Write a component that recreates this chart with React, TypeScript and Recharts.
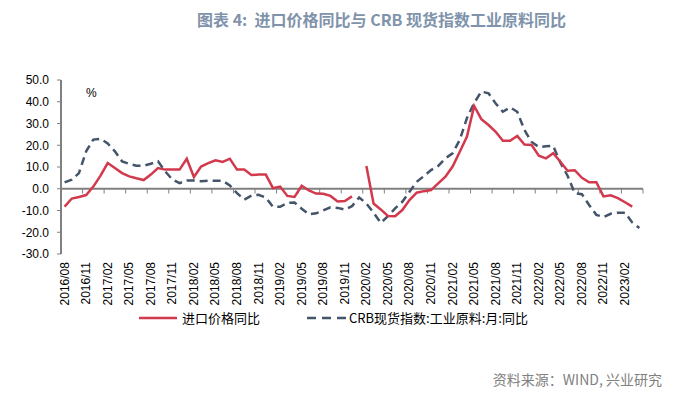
import React from 'react';
import { LineChart, Line, XAxis, YAxis, ReferenceLine } from 'recharts';

// Categories: monthly, 2016/08 .. 2023/04
const months: string[] = [];
for (let i = 0; i < 81; i++) {
  const t = 2016 * 12 + 7 + i;
  const y = Math.floor(t / 12);
  const m = (t % 12) + 1;
  months.push(`${y}/${String(m).padStart(2, '0')}`);
}

// 进口价格同比 (%)
const importYoY: (number | null)[] = [
  -8.2, -4.5, -3.8, -2.9, 1.0, 6.0, 11.8, 9.5, 7.2, 5.7, 4.8, 4.0,
  6.5, 9.5, 8.8, 8.8, 8.8, 13.8, 5.4, 10.2, 11.8, 13.1, 12.3, 13.8,
  8.8, 8.8, 6.3, 6.5, 6.5, 0.3, 1.0, -3.3, -3.8, 1.4, -0.8, -2.2,
  -2.3, -3.3, -5.9, -5.6, -3.5, null, 10.5, -6.8, -9.5, -12.5, -12.6, -9.8,
  -5.2, -1.8, -1.1, -0.6, 2.5, 5.5, 10.2, 17.0, 24.0, 38.1, 32.0, 29.3,
  26.2, 22.1, 22.1, 24.3, 20.3, 20.1, 15.2, 14.0, 16.3, 12.4, 8.3, 8.5,
  5.0, 3.0, 3.0, -3.5, -3.0, -4.3, -6.2, -8.2, null,
];

// CRB现货指数:工业原料:月:同比 (%)
const crbYoY: (number | null)[] = [
  2.9, 4.2, 7.2, 17.2, 22.6, 23.0, 20.8, 17.2, 12.6, 11.4, 10.6, 10.6,
  11.5, 12.6, 8.0, 4.2, 2.6, 3.8, 3.8, 3.5, 3.7, 3.7, 3.7, 1.5,
  -2.0, -5.0, -3.2, -2.8, -4.0, -8.3, -8.3, -6.5, -6.3, -9.2, -11.8, -11.3,
  -10.0, -8.5, -8.8, -9.6, -8.0, -4.0, -6.8, -11.0, -15.7, -12.6, -9.0, -6.0,
  -1.4, 3.2, 5.8, 8.6, 10.5, 14.0, 16.3, 22.5, 32.5, 39.4, 44.7, 43.9,
  39.2, 35.4, 37.4, 35.4, 27.0, 21.5, 19.2, 19.5, 19.7, 12.0, 6.0, -2.0,
  -2.5, -7.5, -12.0, -13.0, -11.5, -11.0, -11.0, -15.5, -18.0,
];

const yTicks = [-30, -20, -10, 0, 10, 20, 30, 40, 50];

const titleText = '图表 4:  进口价格同比与 CRB 现货指数工业原料同比';
const legendImport = '进口价格同比';
const legendCrb = 'CRB现货指数:工业原料:月:同比';
const sourceText = '资料来源：WIND, 兴业研究';

const data = months.map((m, i) => ({ month: m, imp: importYoY[i], crb: crbYoY[i] }));

const tickCats = months.filter((_, i) => i % 3 === 0);

const RED = '#D2394C';
const BLUE = '#44546A';
const AXIS = '#808080';

const XTick = (props: any) => {
  const { x, y, payload } = props;
  return (
    <text
      x={x}
      y={y}
      transform={`rotate(-90 ${x} ${y})`}
      textAnchor="end"
      dominantBaseline="central"
      fontSize={12}
      fontFamily="Liberation Sans"
      fill="#000"
    >
      {payload.value}
    </text>
  );
};

export default function App() {
  return (
    <div style={{ position: 'absolute', left: 0, top: 0, width: 678, height: 395, background: '#fff' }}>
      <LineChart
        width={678}
        height={395}
        data={data}
        margin={{ top: 80, right: 35, bottom: 91, left: 0 }}
      >
        <XAxis
          dataKey="month"
          scale="band"
          interval={2}
          axisLine={false}
          tickLine={false}
          height={50}
          tick={<XTick />}
        />
        <YAxis
          domain={[-30, 50]}
          ticks={yTicks}
          width={61}
          tickFormatter={(v: number) => v.toFixed(1)}
          axisLine={{ stroke: AXIS, strokeWidth: 2 }}
          tickLine={{ stroke: AXIS, strokeWidth: 1 }}
          tickSize={4}
          tickMargin={8}
          tick={{ fontSize: 12, fontFamily: 'Liberation Sans', fill: '#000' }}
          allowDataOverflow
        />
        <ReferenceLine y={0} stroke={AXIS} strokeWidth={2} />
        {tickCats.map((c) => (
          <ReferenceLine
            key={c}
            position="start"
            segment={[{ x: c, y: 0 }, { x: c, y: -2.2 }]}
            stroke={AXIS}
            strokeWidth={1}
          />
        ))}
        <ReferenceLine
          position="end"
          segment={[{ x: months[months.length - 1], y: 0 }, { x: months[months.length - 1], y: -2.2 }]}
          stroke={AXIS}
          strokeWidth={1}
        />
        <Line
          type="linear"
          dataKey="crb"
          stroke={BLUE}
          strokeWidth={2.5}
          strokeDasharray="8 5"
          dot={false}
          isAnimationActive={false}
        />
        <Line
          type="linear"
          dataKey="imp"
          stroke={RED}
          strokeWidth={2.5}
          dot={false}
          isAnimationActive={false}
        />
      </LineChart>

      <div
        style={{
          position: 'absolute', left: 197, top: 8, whiteSpace: 'pre',
          fontFamily: '"Noto Sans CJK SC"', fontWeight: 'bold', fontSize: 16,
          color: '#8093AB', lineHeight: '22px',
        }}
      >
        {titleText}
      </div>

      <div style={{ position: 'absolute', left: 86, top: 86, fontFamily: 'Liberation Sans', fontSize: 12, color: '#000', lineHeight: '14px' }}>%</div>

      <div style={{ position: 'absolute', left: 139, top: 309, display: 'flex', alignItems: 'center', whiteSpace: 'nowrap', fontFamily: '"Noto Sans CJK SC"', fontSize: 13, color: '#000', lineHeight: '18px' }}>
        <svg width={40} height={18} style={{ display: 'block' }}>
          <line x1={0} y1={9} x2={38} y2={9} stroke={RED} strokeWidth={2.5} />
        </svg>
        <span style={{ marginLeft: 3 }}>{legendImport}</span>
      </div>

      <div style={{ position: 'absolute', left: 307, top: 309, display: 'flex', alignItems: 'center', whiteSpace: 'nowrap', fontFamily: '"Noto Sans CJK SC"', fontSize: 13, color: '#000', lineHeight: '18px' }}>
        <svg width={42} height={18} style={{ display: 'block' }}>
          <line x1={0} y1={9} x2={42} y2={9} stroke={BLUE} strokeWidth={2.5} strokeDasharray="9 6" />
        </svg>
        <span>{legendCrb}</span>
      </div>

      <div style={{ position: 'absolute', right: 16, top: 369, whiteSpace: 'nowrap', fontFamily: '"Noto Sans CJK SC"', fontSize: 14, color: '#808080', lineHeight: '20px' }}>
        {sourceText}
      </div>
    </div>
  );
}
